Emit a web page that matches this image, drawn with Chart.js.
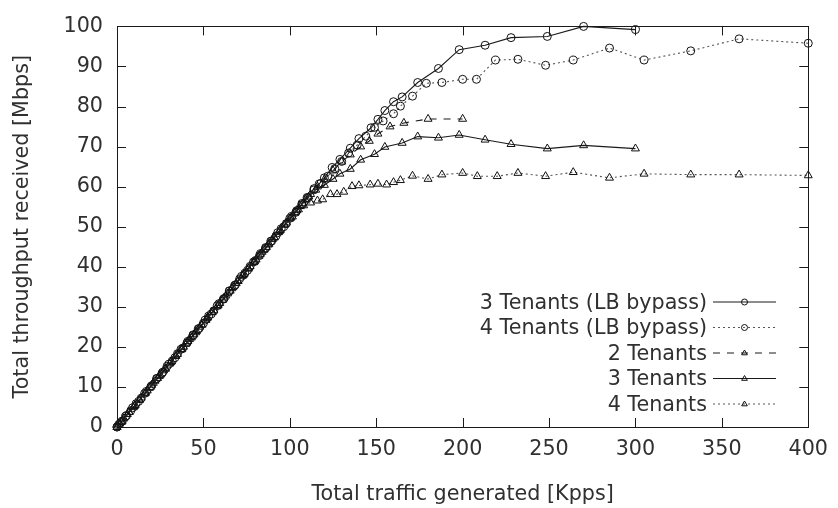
<!DOCTYPE html>
<html>
<head>
<meta charset="utf-8">
<title>Throughput vs traffic</title>
<script src="https://cdn.jsdelivr.net/npm/chart.js@4.4.1/dist/chart.umd.min.js"></script>
<style>
  html, body { margin: 0; padding: 0; background: #fff; }
  #wrap { width: 838px; height: 508px; }
</style>
</head>
<body>
<div id="wrap"><canvas id="chart" width="838" height="508"></canvas></div>
<script>
// ── Data ─────────────────────────────────────────────
const xTicks = [0, 50, 100, 150, 200, 250, 300, 350, 400];
const yTicks = [0, 10, 20, 30, 40, 50, 60, 70, 80, 90, 100];

const labels = ['3 Tenants (LB bypass)', '4 Tenants (LB bypass)', '2 Tenants', '3 Tenants', '4 Tenants'];

// 3 Tenants (LB bypass)
const lb3X = [0,1,3,5,8,11,14,17,20,23,26,29,32,35,38,41,44,47,50,53,56,59,62,65,68,71,74,77,80,83,86,89,92,95,98,101,104,107,110,114,117,120,124.5,129,135,140,147,151,155,160,165,174,186,198,213,228,249,270,300];
const lb3Y = [0,0.6,1.5,2.7,4.1,5.8,7.2,8.9,10.3,12.1,13.4,15.2,16.5,18.3,19.7,21.4,22.8,24.5,25.9,27.7,29,30.8,32.1,33.9,35.3,37,38.4,40.1,41.5,43.3,44.6,46.4,47.7,49.5,50.8,52.6,54,55.8,57.3,59.5,60.7,62.2,64.8,66.8,69.6,72,74.7,76.8,79,81.2,82.4,86,89.5,94.2,95.3,97.2,97.5,100,99.2];

// 4 Tenants (LB bypass)
const lb4X = [0,2,5.5,9,12.5,16,19.5,23,26.5,30,33.5,37,40.5,44,47.5,51,54.5,58,61.5,65,68.5,72,75.5,79,82.5,86,89.5,93,96.5,100,103.5,107,110.5,114,118,122,126,130,134,139,144,149,154,160,164,171,179,188,200,208,219,232,248,264,285,305,332,360,400];
const lb4Y = [0,1.1,2.8,4.8,6.4,8.4,10,12.1,13.7,15.7,17.3,19.4,21,23,24.6,26.7,28.2,30.3,31.9,34,35.5,37.6,39.1,41.2,42.8,44.8,46.4,48.5,50,52.1,53.6,55.5,57.2,59.2,60.8,62.6,64.5,66.3,68.4,70.4,72.6,74.8,76.4,78.2,80.1,82.6,85.8,86,86.8,86.8,91.6,91.8,90.3,91.6,94.6,91.6,93.9,96.9,95.8];

// 2 Tenants
const t2X = [0,1.5,4,7,10,13,16,19,22,25,28,31,34,37,40,43,46,49,52,55,58,61,64,67,70,73,76,79,82,85,88,91,94,97,100,103,106,109,112,116,120,125,130,135,141,146,151,158,166,180,200];
const t2Y = [0,0.8,2.1,3.7,5.2,6.7,8.3,9.9,11.5,13,14.5,16.1,17.7,19.3,20.8,22.3,23.9,25.5,27.1,28.6,30.1,31.7,33.3,34.9,36.4,37.9,39.5,41.1,42.7,44.2,45.7,47.3,48.9,50.5,52,53.5,55.1,56.7,58.1,60,61.8,64,66.2,68,70,71.4,73.2,75,75.9,76.9,76.9];

// 3 Tenants
const t3X = [0,2.5,6,9.5,13,16.5,20,23.5,27,30.5,34,37.5,41,44.5,48,51.5,55,58.5,62,65.5,69,72.5,76,79.5,83,86.5,90,93.5,97,100.5,104,107.5,111,115,120,125,129,135,141,149,155,165,174,186,198,213,228,249,270,300];
const t3Y = [0,1.2,3.2,4.9,6.8,8.5,10.5,12.2,14.1,15.8,17.7,19.4,21.4,23.1,25,26.7,28.7,30.4,32.3,34,35.9,37.7,39.6,41.3,43.2,44.9,46.9,48.6,50.5,52.2,54.1,55.8,57.5,59.2,60.4,61.9,63.2,64.4,66.7,68.1,69.9,70.9,72.5,72.2,72.9,71.7,70.6,69.5,70.3,69.5];

// 4 Tenants
const t4X = [0,3,7,10.5,14,17.5,21,24.5,28,31.5,35,38.5,42,45.5,49,52.5,56,59.5,63,66.5,70,73.5,77,80.5,84,87.5,91,94.5,98,101.5,105,108,112,116,119,123.5,127.3,131.2,136,140,146.5,151,156,160,164,171,180,188,200,208.5,220,232,248,264,285,305,332,360,400];
const t4Y = [0,1.5,3.7,5.4,7.3,9.1,11,12.7,14.6,16.4,18.2,20,21.9,23.6,25.5,27.3,29.1,30.9,32.8,34.6,36.4,38.2,40.1,41.8,43.7,45.5,47.3,49.1,51,52.5,54.3,55.3,56,56.5,56.8,58.1,58.1,58.7,60.1,60.3,60.5,60.7,60.5,61.1,61.6,62.7,61.9,63,63.4,62.6,62.6,63.4,62.6,63.6,62.2,63.2,63,63,62.8];

// ── Helpers ──────────────────────────────────────────
const FONT = "'DejaVu Sans', 'Liberation Sans', sans-serif";
const FSIZE = 20.7;
const INK = '#1a1a1a';
const TEXT = '#303030';

function pts(xs, ys) {
  return xs.map((x, i) => ({ x, y: ys[i] }));
}

function series(label, xs, ys, style, dash, color) {
  return {
    label,
    data: pts(xs, ys),
    showLine: true,
    borderColor: color,
    borderWidth: 1.1,
    borderDash: dash,
    pointStyle: style,
    pointRadius: style === 'triangle' ? 4.6 : 4,
    pointBorderColor: '#111',
    pointBorderWidth: 1,
    pointBackgroundColor: 'rgba(0,0,0,0)',
    clip: false
  };
}

// Box around the plot with ticks pointing inward (gnuplot look)
const framePlugin = {
  id: 'frame',
  afterDatasetsDraw(chart) {
    const { ctx, chartArea: a, scales } = chart;
    const len = 9;
    ctx.save();
    ctx.strokeStyle = INK;
    ctx.lineWidth = 1;
    ctx.setLineDash([]);
    ctx.strokeRect(Math.round(a.left) + 0.5, Math.round(a.top) + 0.5,
                   Math.round(a.right - a.left), Math.round(a.bottom - a.top));
    ctx.beginPath();
    xTicks.forEach(v => {
      const px = Math.round(scales.x.getPixelForValue(v)) + 0.5;
      ctx.moveTo(px, a.bottom); ctx.lineTo(px, a.bottom - len);
      ctx.moveTo(px, a.top);    ctx.lineTo(px, a.top + len);
    });
    yTicks.forEach(v => {
      const py = Math.round(scales.y.getPixelForValue(v)) + 0.5;
      ctx.moveTo(a.left, py);  ctx.lineTo(a.left + len, py);
      ctx.moveTo(a.right, py); ctx.lineTo(a.right - len, py);
    });
    ctx.stroke();
    ctx.restore();
  }
};

function marker(ctx, style, x, y, r) {
  ctx.beginPath();
  if (style === 'triangle') {
    ctx.moveTo(x, y - r);
    ctx.lineTo(x + r * 0.95, y + r * 0.6);
    ctx.lineTo(x - r * 0.95, y + r * 0.6);
    ctx.closePath();
  } else {
    ctx.arc(x, y, r, 0, Math.PI * 2);
  }
  ctx.stroke();
}

// Legend: text right aligned, sample line + marker on the right
const keyPlugin = {
  id: 'key',
  afterDraw(chart) {
    const ctx = chart.ctx;
    const textRight = 707, lineL = 713, lineR = 776, top = 301.5, step = 25.5;
    ctx.save();
    ctx.font = FSIZE + 'px ' + FONT;
    ctx.textAlign = 'right';
    ctx.textBaseline = 'middle';
    chart.data.datasets.forEach((ds, i) => {
      const y = top + i * step;
      ctx.fillStyle = TEXT;
      ctx.fillText(ds.label, textRight, y + 2);
      ctx.strokeStyle = ds.borderColor;
      ctx.lineWidth = 1.1;
      ctx.setLineDash(ds.borderDash || []);
      ctx.beginPath();
      ctx.moveTo(lineL, y + 0.5); ctx.lineTo(lineR, y + 0.5);
      ctx.stroke();
      ctx.setLineDash([]);
      ctx.strokeStyle = '#111';
      ctx.lineWidth = 1;
      marker(ctx, ds.pointStyle, (lineL + lineR) / 2, y + 0.5, 3);
    });
    ctx.restore();
  }
};

// ── Chart ────────────────────────────────────────────
new Chart(document.getElementById('chart'), {
  type: 'scatter',
  data: {
    datasets: [
      series(labels[0], lb3X, lb3Y, 'circle', [], '#1a1a1a'),
      series(labels[1], lb4X, lb4Y, 'circle', [2, 3], '#555'),
      series(labels[2], t2X, t2Y, 'triangle', [7, 7], '#1a1a1a'),
      series(labels[3], t3X, t3Y, 'triangle', [], '#1a1a1a'),
      series(labels[4], t4X, t4Y, 'triangle', [2, 3], '#555')
    ]
  },
  options: {
    responsive: false,
    animation: false,
    devicePixelRatio: 1,
    layout: { padding: { top: 18, right: 26, bottom: 0, left: 0 } },
    plugins: {
      legend: { display: false },
      tooltip: { enabled: false }
    },
    scales: {
      x: {
        type: 'linear',
        min: 0, max: 400,
        afterBuildTicks: s => { s.ticks = xTicks.map(v => ({ value: v })); },
        afterFit: s => { s.height = 81; },
        grid: { display: false, drawTicks: false },
        border: { display: false },
        ticks: { padding: 10, color: TEXT, font: { family: FONT, size: FSIZE } },
        title: {
          display: true,
          text: 'Total traffic generated [Kpps]',
          color: TEXT,
          font: { family: FONT, size: FSIZE },
          padding: { top: 0, bottom: 1 }
        }
      },
      y: {
        type: 'linear',
        min: 0, max: 100,
        afterBuildTicks: s => { s.ticks = yTicks.map(v => ({ value: v })); },
        afterFit: s => { s.width = 117; },
        grid: { display: false, drawTicks: false },
        border: { display: false },
        ticks: { padding: 14, color: TEXT, font: { family: FONT, size: FSIZE } },
        title: {
          display: true,
          text: 'Total throughput received [Mbps]',
          color: TEXT,
          font: { family: FONT, size: FSIZE },
          padding: { top: 10, bottom: 0 }
        }
      }
    }
  },
  plugins: [framePlugin, keyPlugin]
});
</script>
</body>
</html>
